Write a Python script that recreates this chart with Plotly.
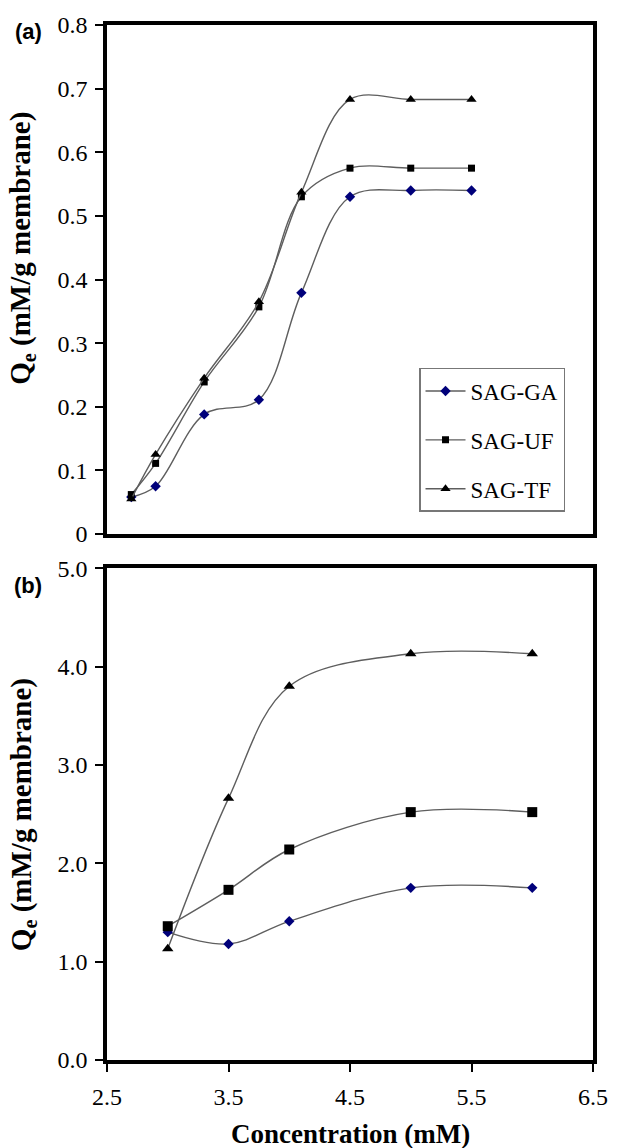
import plotly.graph_objects as go

# Panel (a): adsorption at low concentrations
conc_a = [2.7, 2.9, 3.3, 3.75, 4.1, 4.5, 5.0, 5.5]
ga_a = [0.058, 0.075, 0.188, 0.211, 0.379, 0.530, 0.540, 0.540]
uf_a = [0.062, 0.111, 0.239, 0.357, 0.530, 0.575, 0.575, 0.575]
tf_a = [0.055, 0.125, 0.245, 0.365, 0.537, 0.683, 0.683, 0.683]

# Panel (b): adsorption at higher concentrations
conc_b = [3.0, 3.5, 4.0, 5.0, 6.0]
ga_b = [1.30, 1.18, 1.41, 1.75, 1.75]
uf_b = [1.36, 1.73, 2.14, 2.52, 2.52]
tf_b = [1.13, 2.66, 3.80, 4.13, 4.13]

series_names = ["SAG-GA", "SAG-UF", "SAG-TF"]

SERIF = "Liberation Serif, Times New Roman, serif"
SANS = "Liberation Sans, Arial, sans-serif"
LINE_COLOR = "#5e5e5e"

styles = {
    "SAG-GA": dict(symbol="diamond", color="#00007a", size_a=8, size_b=8),
    "SAG-UF": dict(symbol="square", color="black", size_a=7, size_b=10),
    "SAG-TF": dict(symbol="triangle-up", color="black", size_a=9, size_b=10),
}

fig = go.Figure()

for name, ys in zip(series_names, [ga_a, uf_a, tf_a]):
    st = styles[name]
    fig.add_trace(go.Scatter(
        x=conc_a, y=ys, name=name, mode="lines+markers",
        line=dict(color=LINE_COLOR, width=1.4, shape="spline", smoothing=1.0),
        marker=dict(symbol=st["symbol"], color=st["color"], size=st["size_a"]),
        xaxis="x", yaxis="y", legendgroup=name, showlegend=True,
    ))

for name, ys in zip(series_names, [ga_b, uf_b, tf_b]):
    st = styles[name]
    fig.add_trace(go.Scatter(
        x=conc_b, y=ys, name=name, mode="lines+markers",
        line=dict(color=LINE_COLOR, width=1.4, shape="spline", smoothing=1.0),
        marker=dict(symbol=st["symbol"], color=st["color"], size=st["size_b"]),
        xaxis="x2", yaxis="y2", legendgroup=name, showlegend=False,
    ))

box = dict(showline=True, linecolor="black", linewidth=3.5, mirror=True,
           showgrid=False, zeroline=False)
tickfont = dict(family=SERIF, size=24, color="black")

fig.update_layout(
    width=620, height=1148,
    margin=dict(l=107, r=19, t=22, b=88),
    paper_bgcolor="white", plot_bgcolor="white",
    xaxis=dict(domain=[0, 1], anchor="y", range=[2.5, 6.5],
               showticklabels=False, ticks="", **box),
    yaxis=dict(domain=[0.5082, 1], anchor="x", range=[0, 0.8],
               tick0=0, dtick=0.1, ticks="outside", ticklen=8, tickwidth=1.5,
               tickcolor="black", tickfont=tickfont, ticklabelstandoff=3, **box),
    xaxis2=dict(domain=[0, 1], anchor="y2", range=[2.5, 6.5],
                tick0=2.5, dtick=1, tickformat=".1f", ticks="outside",
                ticklen=8, tickwidth=1.5, tickcolor="black", tickfont=tickfont,
                ticklabelstandoff=4, **box),
    yaxis2=dict(domain=[0, 0.4752], anchor="x2", range=[0, 5],
                tick0=0, dtick=1, tickformat=".1f", ticks="outside", ticklen=8,
                tickwidth=1.5, tickcolor="black", tickfont=tickfont,
                ticklabelstandoff=3, **box),
    legend=dict(x=0.642, y=0.6686, xanchor="left", yanchor="top",
                bgcolor="white", bordercolor="#777777", borderwidth=1.5,
                font=dict(family=SERIF, size=23, color="black"),
                tracegroupgap=16, itemwidth=40),
    showlegend=True,
)

ytitle = "<b>Q<sub>e</sub> (mM/g membrane)</b>"
annotations = [
    dict(text="<b>(a)</b>", x=-0.162, y=0.9933, xref="paper", yref="paper",
         xanchor="center", yanchor="middle", showarrow=False,
         font=dict(family=SANS, size=22, color="black")),
    dict(text="<b>(b)</b>", x=-0.162, y=0.4586, xref="paper", yref="paper",
         xanchor="center", yanchor="middle", showarrow=False,
         font=dict(family=SANS, size=22, color="black")),
    dict(text=ytitle, x=-0.174, y=0.7842, xref="paper", yref="paper",
         xanchor="center", yanchor="middle", textangle=-90, showarrow=False,
         font=dict(family=SERIF, size=29, color="black")),
    dict(text=ytitle, x=-0.174, y=0.237, xref="paper", yref="paper",
         xanchor="center", yanchor="middle", textangle=-90, showarrow=False,
         font=dict(family=SERIF, size=29, color="black")),
    dict(text="<b>Concentration (mM)</b>", x=0.5, y=-0.0713, xref="paper",
         yref="paper", xanchor="center", yanchor="middle", showarrow=False,
         font=dict(family=SERIF, size=27, color="black")),
]
fig.update_layout(annotations=annotations)

fig.write_html("out.html")
